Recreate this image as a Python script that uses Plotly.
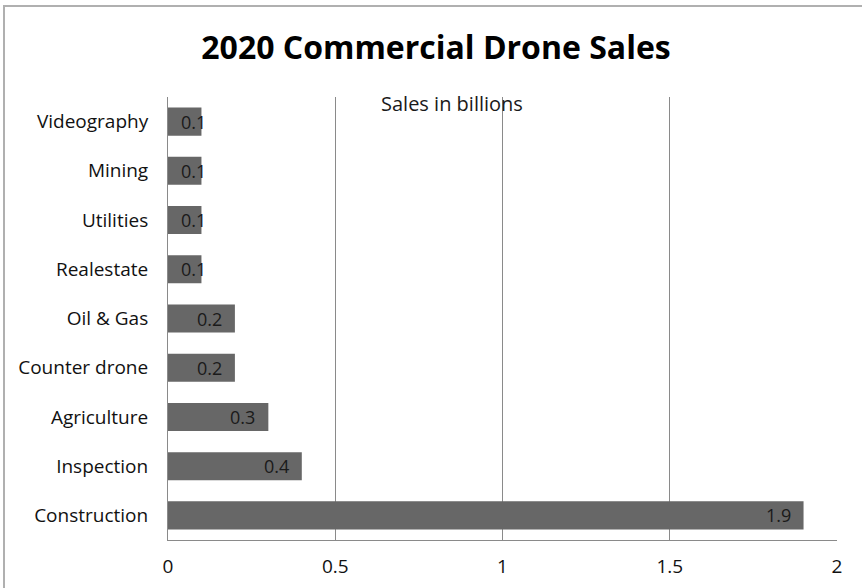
import plotly.graph_objects as go

categories = ["Construction", "Inspection", "Agriculture", "Counter drone", "Oil & Gas",
              "Realestate", "Utilities", "Mining", "Videography"]
sales = [1.9, 0.4, 0.3, 0.2, 0.2, 0.1, 0.1, 0.1, 0.1]
x_ticks = [0, 0.5, 1, 1.5, 2]
x_tick_labels = ["0", "0.5", "1", "1.5", "2"]

W, H = 862, 588
L, R, T, B = 168, 25, 97, 48
pw, ph = W - L - R, H - T - B

FONT = "Open Sans"
fig = go.Figure()
fig.add_trace(go.Bar(
    y=categories, x=sales, orientation="h",
    marker=dict(color="#676767", line=dict(width=0)),
    width=0.57, hoverinfo="skip",
))

annotations = []
for c, v in zip(categories, sales):
    if v < 0.15:
        annotations.append(dict(x=0, y=c, xref="x", yref="y", text=str(v), showarrow=False,
                                xanchor="left", xshift=11, font=dict(family=FONT, size=18, color="#1a1a1a")))
    else:
        annotations.append(dict(x=v, y=c, xref="x", yref="y", text=str(v), showarrow=False,
                                xanchor="right", xshift=-11, font=dict(family=FONT, size=18, color="#1a1a1a")))

annotations.append(dict(x=(452 - L) / pw, y=(540 - 103) / ph, xref="paper", yref="paper",
                        text="Sales in billions", showarrow=False, xanchor="center", yanchor="middle",
                        font=dict(family=FONT, size=20, color="#1a1a1a")))

fig.update_layout(
    width=W, height=H,
    margin=dict(l=L, r=R, t=T, b=B, pad=0, autoexpand=False),
    paper_bgcolor="white", plot_bgcolor="white",
    showlegend=False,
    title=dict(text="<b>2020 Commercial Drone Sales</b>", x=436 / W, xanchor="center",
               y=1 - 48 / H, yanchor="middle",
               font=dict(family=FONT, size=32, color="#000")),
    xaxis=dict(range=[0, 2], tickvals=x_ticks, ticktext=x_tick_labels,
               showgrid=True, gridcolor="#8a8a8a", gridwidth=1,
               showline=True, linecolor="#8a8a8a", linewidth=1, automargin=False,
               zeroline=False, ticks="", ticklabelstandoff=9,
               tickfont=dict(family=FONT, size=19, color="#111"), fixedrange=True),
    yaxis=dict(categoryorder="array", categoryarray=categories,
               showgrid=False, showline=True, linecolor="#8a8a8a", linewidth=1, automargin=False,
               ticks="", ticklabelstandoff=15,
               tickfont=dict(family=FONT, size=19, color="#111"), fixedrange=True),
    bargap=0.43,
    annotations=annotations,
    shapes=[dict(type="rect", xref="paper", yref="paper",
                 x0=(4 - L) / pw, x1=(880 - L) / pw,
                 y0=(540 - 600) / ph, y1=(540 - 6) / ph,
                 line=dict(color="#b0b0b0", width=2), fillcolor="rgba(0,0,0,0)", layer="above")],
)

fig.write_html("out.html", config={"displayModeBar": False},
               post_script="document.body.style.margin='0';document.body.style.overflow='hidden';")
